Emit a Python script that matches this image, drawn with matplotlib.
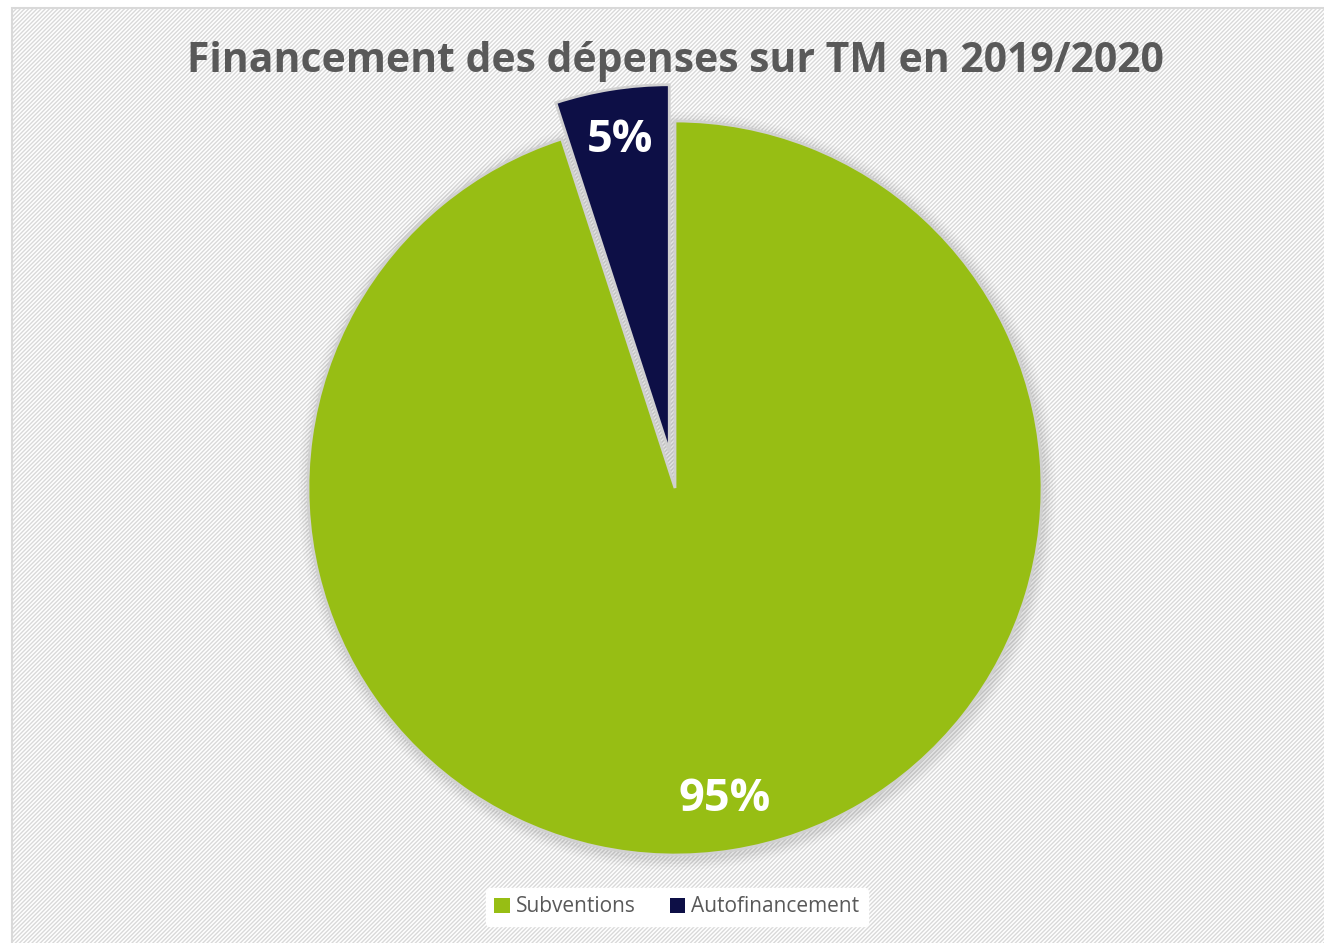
import matplotlib
matplotlib.use("Agg")
import matplotlib.pyplot as plt
from matplotlib.patches import Rectangle, Circle

title = "Financement des dépenses sur TM en 2019/2020"
categories = ["Subventions", "Autofinancement"]
values = [95, 5]
colors = ["#97BE14", "#0D0F46"]

W, H = 1324, 943
fig = plt.figure(figsize=(W / 100, H / 100), dpi=100)
fig.patch.set_facecolor("white")
plt.rcParams["hatch.color"] = "#F0F0F0"

# background panel with light diagonal hatch
bg = fig.add_axes([0, 0, 1, 1])
bg.set_xlim(0, W)
bg.set_ylim(H, 0)
bg.axis("off")
panel = Rectangle((12, 8), W, H, facecolor="white", edgecolor="#D9D9D9",
                  linewidth=1.5, hatch="////////")
bg.add_patch(panel)

cx, cy, r = 675, 488, 367
# soft shadow
for i, a in enumerate([0.035, 0.03, 0.025, 0.02]):
    bg.add_patch(Circle((cx + 2, cy + 3), r + 3 + i * 3, facecolor="black", alpha=a,
                        edgecolor="none"))

ax = fig.add_axes([(cx - r) / W, (H - cy - r) / H, 2 * r / W, 2 * r / H])
wedges, texts, autotexts = ax.pie(
    values, colors=colors, startangle=90, counterclock=False,
    explode=[0, 0.1], autopct=lambda p: f"{p:.0f}%", pctdistance=0.86,
    wedgeprops=dict(edgecolor="#D0D0D0", linewidth=2),
    textprops=dict(color="white", fontsize=32.5, fontweight="bold", family="Open Sans"),
)
for w in wedges:
    w.set_clip_on(False)
ax.set_xlim(-1, 1)
ax.set_ylim(-1, 1)
ax.set_aspect("equal")
ax.axis("off")

fig.text(675 / W, 1 - 61 / H, title, ha="center", va="center", fontsize=29.4,
         fontweight="bold", color="#595959", family="Open Sans")

leg = fig.legend(wedges, categories, loc="center", bbox_to_anchor=(677 / W, 1 - 907 / H),
                 ncol=2, frameon=True, handlelength=0.75, handleheight=0.75,
                 handletextpad=0.3, columnspacing=1.6, prop=dict(family="Open Sans", size=15))
leg.get_frame().set_facecolor("white")
leg.get_frame().set_edgecolor("white")
leg.get_frame().set_alpha(1)
for t in leg.get_texts():
    t.set_color("#595959")
for h in leg.legend_handles:
    h.set_edgecolor("none")

fig.savefig("out.png", dpi=100)
